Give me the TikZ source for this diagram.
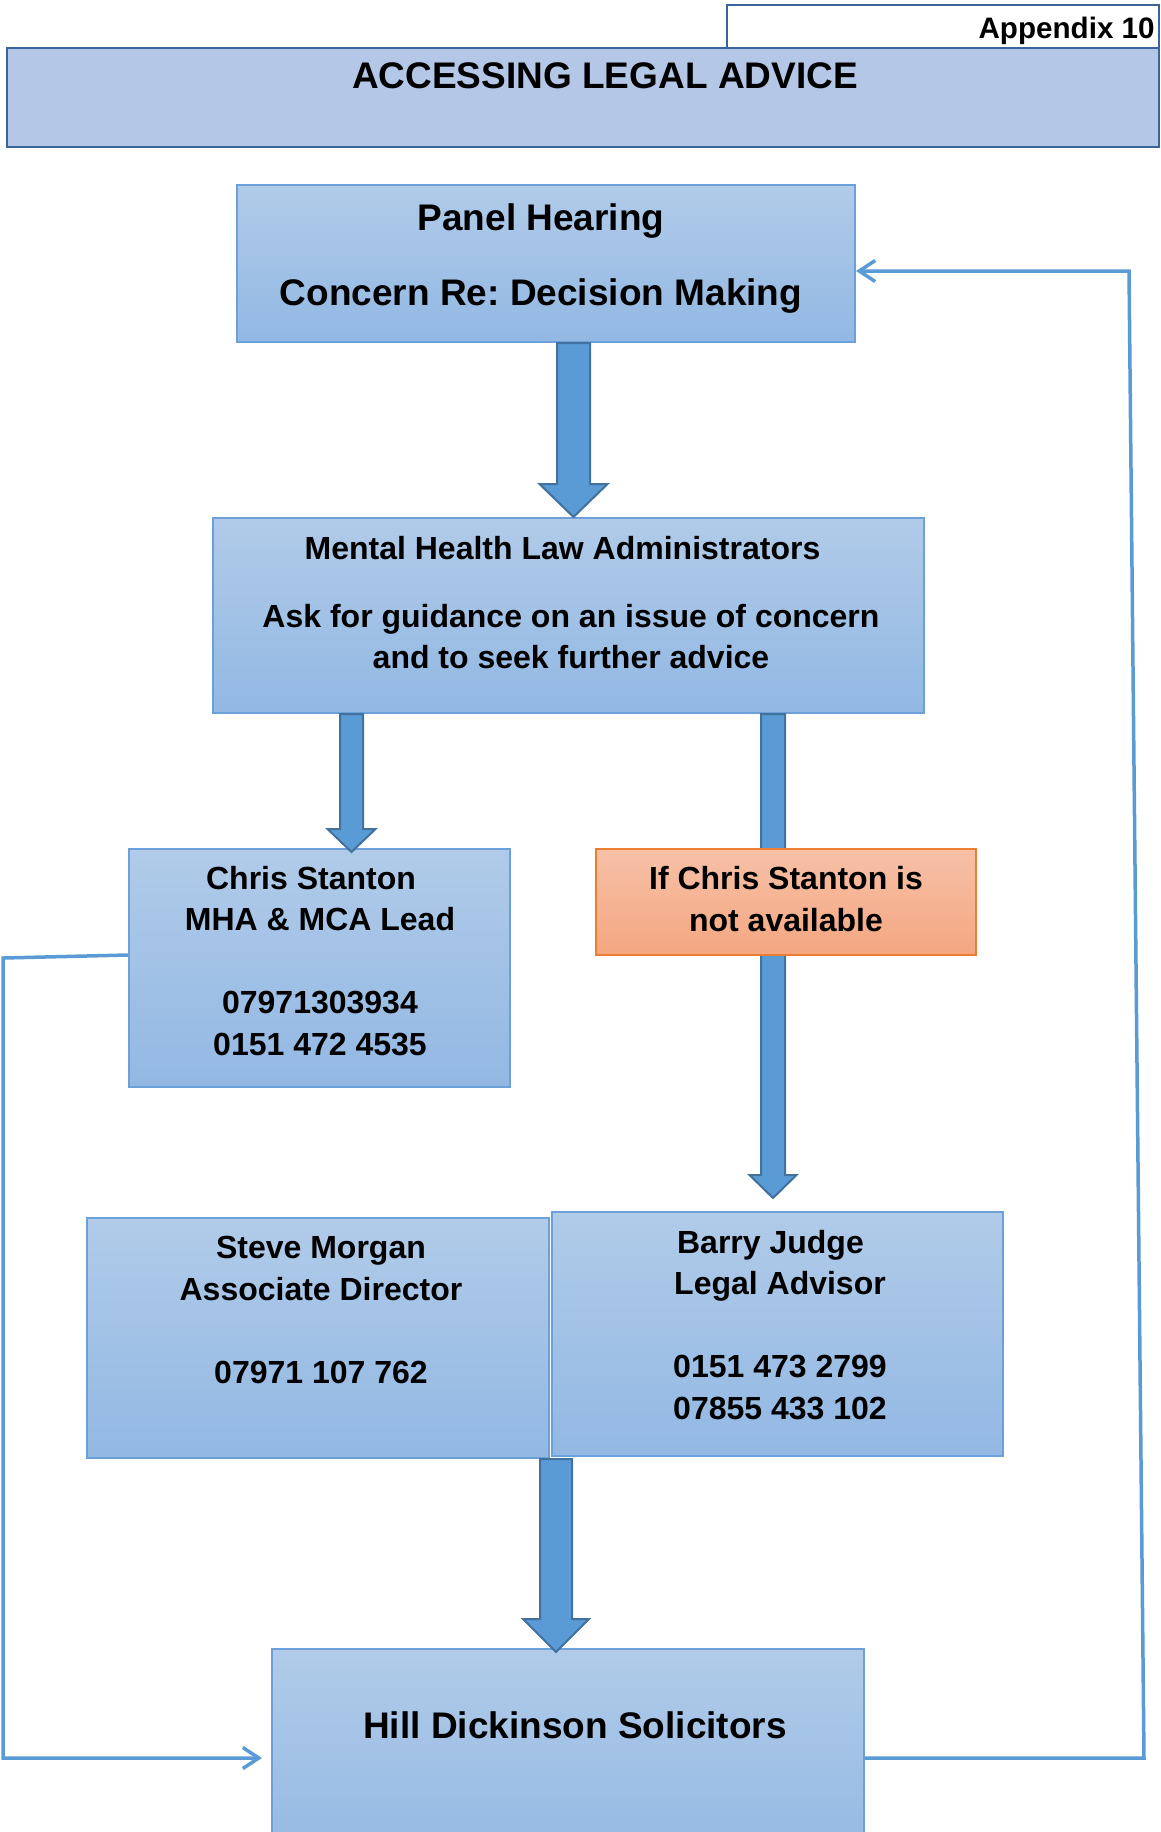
\documentclass[tikz,border=0pt]{standalone}
\usepackage{fontspec}
\setmainfont{Liberation Sans}
\usetikzlibrary{fit,calc,arrows.meta}
\frenchspacing
\definecolor{boxtop}{RGB}{177,203,233}
\definecolor{boxbot}{RGB}{146,184,227}
\definecolor{boxline}{RGB}{108,160,216}
\definecolor{titlefill}{RGB}{180,199,231}
\definecolor{titleline}{RGB}{59,100,152}
\definecolor{arrfill}{RGB}{91,155,213}
\definecolor{arrline}{RGB}{65,113,156}
\definecolor{orgtop}{RGB}{247,193,168}
\definecolor{orgbot}{RGB}{244,166,128}
\definecolor{orgline}{RGB}{237,125,49}
\definecolor{connline}{RGB}{91,155,213}
\newcommand{\tb}[1]{\begin{tabular}[t]{@{}c@{}}#1\end{tabular}}
% #1 from, #2 tip, #3 shaft half width, #4 head half width, #5 head length
\newcommand{\blockarr}[5]{%
  \filldraw[blockarrow] let \p1=(#1), \p2=(#2) in
    (\x1-#3,\y1) -- (\x1+#3,\y1) -- (\x1+#3,\y2+#5) -- (\x1+#4,\y2+#5) --
    (\x2,\y2) -- (\x1-#4,\y2+#5) -- (\x1-#3,\y2+#5) -- cycle;}
\begin{document}
\frenchspacing
\begin{tikzpicture}[x=0.5pt,y=-0.5pt,
  bluebox/.style={draw=boxline,line width=1pt,top color=boxtop,bottom color=boxbot,inner sep=0pt},
  orangebox/.style={draw=orgline,line width=1pt,top color=orgtop,bottom color=orgbot,inner sep=0pt},
  bodytext/.style={inner sep=0pt,anchor=base,font=\frenchspacing\bfseries\fontsize{16}{20.75}\selectfont},
  bigtext/.style={inner sep=0pt,anchor=base,font=\frenchspacing\bfseries\fontsize{18.5}{22}\selectfont},
  blockarrow/.style={fill=arrfill,draw=arrline,line width=1pt,line join=miter},
  conn/.style={draw=connline,line width=1.75pt},
  openhead/.style={-{Straight Barb[length=8pt,width=10.5pt]}}]
\useasboundingbox (0,0) rectangle (1161,1832);
\fill[white] (0,0) rectangle (1161,1832);

% header
\node[draw=titleline,line width=1pt,fill=white,inner sep=0pt,fit={(727,5)(1159,48)}] (appbox) {};
\node[draw=titleline,line width=1.2pt,fill=titlefill,inner sep=0pt,fit={(7,48)(1159,147)}] (titlebox) {};
\node[inner sep=0pt,anchor=base east,font=\bfseries\fontsize{14.8}{17}\selectfont] (app-t) at (1155,38) {Appendix 10};
\node[bigtext] (title-t) at (605,88) {ACCESSING LEGAL ADVICE};

% boxes
\node[bluebox,fit={(237,185)(855,342)}] (panel) {};
\node[bluebox,fit={(213,518)(924,713)}] (mhla) {};
\node[bluebox,fit={(129,849)(510,1087)}] (chris) {};
\node[bluebox,fit={(87,1218)(549,1458)}] (steve) {};
\node[bluebox,fit={(552,1212)(1003,1456)}] (barry) {};
\node[bluebox,fit={(272,1649)(864,1870)}] (hill) {};

% block arrows
\coordinate (a1from) at (573.5,0 |- panel.south);
\coordinate (a1tip) at (573.5,517);
\coordinate (a2from) at (351.5,0 |- mhla.south);
\coordinate (a2tip) at (351.5,852);
\coordinate (a3from) at (773,0 |- mhla.south);
\coordinate (a3tip) at (773,1198);
\coordinate (a4from) at (556,0 |- steve.south);
\coordinate (a4tip) at (556,1652);
\blockarr{a1from}{a1tip}{8.25pt}{17pt}{16.5pt}
\blockarr{a2from}{a2tip}{5.75pt}{12pt}{11.5pt}
\blockarr{a3from}{a3tip}{6pt}{11.75pt}{11.5pt}
\blockarr{a4from}{a4tip}{8pt}{16.5pt}{16.5pt}

\node[orangebox,fit={(596,849)(976,955)}] (orange) {};

% thin connectors
\coordinate (lc1) at (3,958);
\coordinate (lc2) at (3,1758);
\draw[conn,openhead,shorten >=4.5pt] (chris.west |- 0,955) -- (lc1) -- (lc2) -- (hill.west |- 0,1758);
\coordinate (rc1) at (1144,1758);
\coordinate (rc2) at (1129,271);
\draw[conn,openhead] (hill.east |- 0,1758) -- (rc1) -- (rc2) -- (panel.east |- 0,271);

% texts
\node[bigtext] (panel-t) at (541,230) {\tb{Panel Hearing\\[15.5pt]Concern Re: Decision Making}};
\node[bodytext] (mhla-t) at (571,559) {\tb{Mental Health Law Administrators\hspace*{8.5pt}\\[13.25pt]Ask for guidance on an issue of concern\\and to seek further advice}};
\node[bodytext] (chris-t) at (320,889) {\tb{Chris Stanton\hspace*{9pt}\\MHA \& MCA Lead\\[20.75pt]07971303934\\0151 472 4535}};
\node[bodytext] (orange-t) at (786,889.5) {\tb{If Chris Stanton is\\not available}};
\node[bodytext] (steve-t) at (321,1258.5) {\tb{Steve Morgan\\Associate Director\\[20.75pt]07971 107 762}};
\node[bodytext] (barry-t) at (780,1253) {\tb{Barry Judge\hspace*{9.5pt}\\Legal Advisor\\[20.75pt]0151 473 2799\\07855 433 102}};
\node[bigtext] (hill-t) at (575,1738) {Hill Dickinson Solicitors};
\end{tikzpicture}
\end{document}
